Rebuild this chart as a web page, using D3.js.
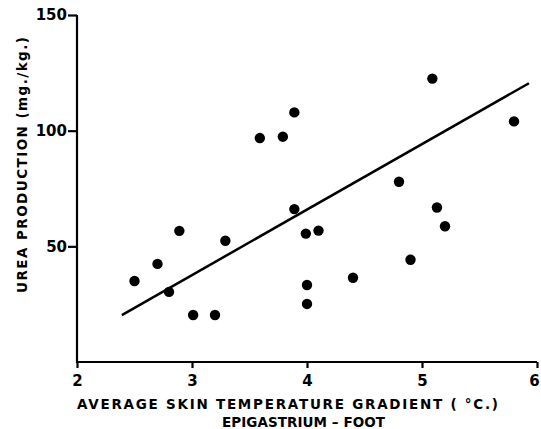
<!DOCTYPE html>
<html><head><meta charset="utf-8">
<script src="https://cdn.jsdelivr.net/npm/d3@7"></script>
<style>body{margin:0;background:#fff}svg{display:block}</style>
</head><body>
<svg id="c" width="541" height="429"></svg>
<script>
const gradient = [2.50,2.70,2.80,2.89,3.01,3.20,3.29,3.59,3.79,3.89,3.89,3.99,4.10,4.00,4.00,4.40,4.80,4.90,5.09,5.13,5.20,5.80];
const urea     = [35.0,42.4,30.3,56.7,20.3,20.3,52.4,96.8,97.4,107.9,66.1,55.5,56.8,33.3,25.1,36.4,77.9,44.2,122.5,66.8,58.7,104.0];
const fitX = [2.39, 5.93];
const fitY = [20.3, 120.5];
const xTicks = [2,3,4,5,6];
const yTicks = [50,100,150];
const xTitle1 = "AVERAGE  SKIN  TEMPERATURE  GRADIENT  ( °C.)";
const xTitle2 = "EPIGASTRIUM – FOOT";
const yTitle = "UREA  PRODUCTION  (mg./kg.)";

const svg = d3.select("#c");
const x = d3.scaleLinear().domain([2,6]).range([77,537]);
const y = d3.scaleLinear().domain([0,150]).range([362,15]);
const font = "'DejaVu Sans', sans-serif";

const xa = svg.append("g").attr("transform","translate(0,362)")
  .call(d3.axisBottom(x).tickValues(xTicks).tickFormat(d3.format("d")).tickSize(6).tickSizeOuter(0));
const ya = svg.append("g").attr("transform","translate(77,0)")
  .call(d3.axisLeft(y).tickValues(yTicks).tickFormat(d3.format("d")).tickSize(9).tickSizeOuter(0));
[xa,ya].forEach(a=>{
  a.select(".domain").attr("stroke","#000").attr("stroke-width",2.2);
  a.selectAll(".tick line").attr("stroke","#000").attr("stroke-width",2.2);
  a.selectAll(".tick text").attr("fill","#000").style("font-family",font)
   .style("font-weight","bold").style("font-size","15px");
});
ya.select(".domain").attr("d",`M0,${y(150)}V${y(0)+1}`);
xa.select(".domain").attr("d",`M${x(2)-1},0H${x(6)}`);
xa.selectAll(".tick text").attr("dy","1.0em");
xa.selectAll(".tick text").filter(d=>d===6).attr("x",-3);
ya.selectAll(".tick text").attr("x",-10);

svg.append("line")
  .attr("x1",x(fitX[0])).attr("y1",y(fitY[0]))
  .attr("x2",x(fitX[1])).attr("y2",y(fitY[1]))
  .attr("stroke","#000").attr("stroke-width",2.5);

svg.append("g").selectAll("circle").data(gradient).join("circle")
  .attr("cx",(d)=>x(d)).attr("cy",(d,i)=>y(urea[i])).attr("r",5.2).attr("fill","#000");

const tstyle = s=>s.style("font-family",font).style("font-weight","bold").style("font-size","13.5px").attr("fill","#000");
svg.append("text").attr("x",77).attr("y",409).text(xTitle1).call(tstyle)
  .attr("textLength",421).attr("lengthAdjust","spacing");
svg.append("text").attr("x",222).attr("y",427).text(xTitle2).call(tstyle)
  .attr("textLength",163).attr("lengthAdjust","spacing");
svg.append("text").attr("transform","translate(27,293) rotate(-90)").text(yTitle).call(tstyle)
  .attr("textLength",256).attr("lengthAdjust","spacing");
</script>
</body></html>
